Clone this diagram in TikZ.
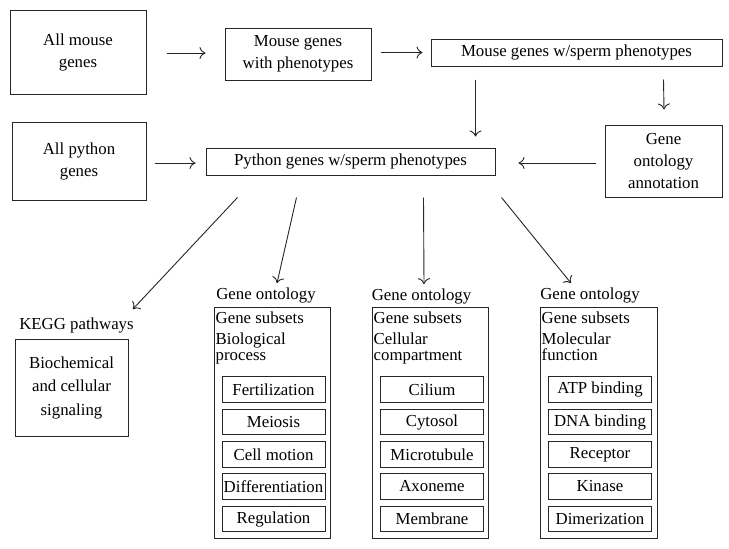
\documentclass[tikz,border=0pt]{standalone}
\usepackage{fontspec}
\setmainfont{Liberation Serif}
\usetikzlibrary{arrows.meta,calc}
\begin{document}
\begin{tikzpicture}[x=1pt,y=-1pt,
  box/.style={draw=black!85,line width=1pt,align=center,inner sep=2pt},
  big/.style={draw=black!85,line width=1pt,minimum height=231pt},
  sub/.style={draw=black!85,line width=1pt,minimum width=103pt,minimum height=25.5pt,inner xsep=1pt,inner ysep=0pt},
  lbl/.style={inner sep=0pt},
  head/.style={inner sep=0pt,anchor=north west,align=left,font=\fontsize{16.8}{16}\selectfont},
  arr/.style={line width=0.9pt,black!85,-{To[length=6pt,width=12pt]}},
  font=\fontsize{16.8}{22}\selectfont]
\fill[white] (0,0) rectangle (729,549);
\useasboundingbox (0,0) rectangle (729,549);

% top rows
\node[box,minimum width=136pt,minimum height=84pt] (allmouse) at (78,52) {All mouse\\genes};
\node[box,minimum width=146pt,minimum height=52pt] (mousephen) at (298,54) {Mouse genes\\with phenotypes};
\node[box,minimum width=291pt,minimum height=27pt] (mousesperm) at (576.5,52.5) {Mouse genes w/sperm phenotypes};
\node[box,minimum width=134pt,minimum height=78pt] (allpython) at (79,161) {All python\\genes};
\node[box,minimum width=289pt,minimum height=27pt] (pysperm) at (350.5,161.5) {Python genes w/sperm phenotypes};
\node[box,minimum width=117pt,minimum height=72pt] (goannot) at (663.5,161) {Gene\\ontology\\annotation};

% KEGG
\node[lbl] (kegglbl) at (76.5,325) {KEGG pathways};
\node[box,minimum width=113pt,minimum height=97pt,font=\fontsize{16.8}{23.5}\selectfont] (kegg) at (71.5,387.5) {Biochemical\\and cellular\\signaling};

% Biological process column
\node[lbl] (golbl1) at (266,295) {Gene ontology};
\node[big,minimum width=116pt] (bio) at (272,422.5) {};
\node[head] (biohead) at ($(bio.north west)+(2,5)$) {Gene subsets\\[5pt]Biological\\process};
\node[sub] (fert) at (273.5,389.5) {Fertilization};
\node[sub] (meio) at (273.5,422) {Meiosis};
\node[sub] (cellm) at (273.5,454.5) {Cell motion};
\node[sub] (diff) at (273.5,486.5) {Differentiation};
\node[sub] (regu) at (273.5,519) {Regulation};

% Cellular compartment column
\node[lbl] (golbl2) at (421.5,296) {Gene ontology};
\node[big,minimum width=116pt] (cell) at (430,422.5) {};
\node[head] (cellhead) at ($(cell.north west)+(2,5)$) {Gene subsets\\[5pt]Cellular\\compartment};
\node[sub] (cili) at (432,389.5) {Cilium};
\node[sub] (cyto) at (432,422) {Cytosol};
\node[sub] (micr) at (432,454.5) {Microtubule};
\node[sub] (axon) at (432,486.5) {Axoneme};
\node[sub] (memb) at (432,519) {Membrane};

% Molecular function column
\node[lbl] (golbl3) at (590,295) {Gene ontology};
\node[big,minimum width=117pt] (mol) at (598.5,422.5) {};
\node[head] (molhead) at ($(mol.north west)+(2,5)$) {Gene subsets\\[5pt]Molecular\\function};
\node[sub] (atp) at (600,389.5) {ATP binding};
\node[sub] (dna) at (600,422) {DNA binding};
\node[sub] (rece) at (600,454.5) {Receptor};
\node[sub] (kina) at (600,486.5) {Kinase};
\node[sub] (dime) at (600,519) {Dimerization};

% arrows
\draw[arr] ($(allmouse.east)+(20,1)$) -- ($(mousephen.west)+(-19,-1)$);
\draw[arr] ($(mousephen.east)+(9,-1.5)$) -- ($(mousesperm.west)+(-8,0)$);
\draw[arr] ($(mousesperm.south west)+(45,13)$) -- ($(pysperm.north west)+(270,-11)$);
\draw[arr] ($(mousesperm.south west)+(233,13)$) -- ($(goannot.north)+(0.5,-15)$);
\draw[arr] ($(allpython.east)+(8,2)$) -- ($(pysperm.west)+(-10,1.5)$);
\draw[arr] ($(goannot.west)+(-9,2)$) -- ($(pysperm.east)+(23,1.5)$);
\draw[arr] ($(pysperm.south west)+(32,22)$) -- ($(kegglbl.north east)+(-1,-8)$);
\draw[arr] ($(pysperm.south west)+(91,22)$) -- ($(golbl1.north)+(11,-4)$);
\draw[arr] ($(pysperm.south west)+(218,22)$) -- ($(golbl2.north)+(2.5,-4)$);
\draw[arr] ($(pysperm.south east)+(6,22)$) -- ($(golbl3.north)+(-19,-4)$);
\end{tikzpicture}
\end{document}
